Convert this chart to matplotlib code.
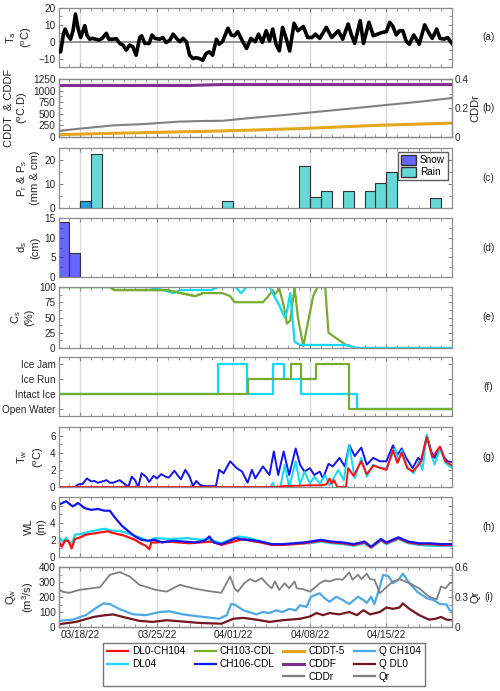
import numpy as np
import matplotlib
matplotlib.use('Agg')
import matplotlib.pyplot as plt
import matplotlib.dates as mdates
from matplotlib.lines import Line2D
from matplotlib.patches import Patch
from matplotlib.ticker import MultipleLocator

FS = 7.2
plt.rcParams['font.family'] = ['Liberation Sans', 'DejaVu Sans']
plt.rcParams['font.size'] = FS
plt.rcParams['mathtext.fontset'] = 'custom'
plt.rcParams['mathtext.rm'] = 'Liberation Sans'
plt.rcParams['mathtext.it'] = 'Liberation Sans'

# ---- data (days since 03/16/22 00:00) ----
ta_day = [0, 0.2, 0.45, 0.6, 0.87, 1.1, 1.33, 1.55, 1.8, 2.03, 2.4, 2.6, 2.85, 3.1, 3.4, 3.7, 4.0, 4.38,
          4.6, 5.0, 5.3, 5.6, 5.9, 6.2, 6.5, 6.8, 7.1, 7.43, 7.6, 7.9, 8.3, 8.55, 8.8, 9.25, 9.55, 9.85,
          10.2, 10.48, 10.8, 11.1, 11.4, 11.7, 12.0, 12.3, 12.6, 12.9, 13.2, 13.5, 13.8, 14.1, 14.45,
          14.7, 15.0, 15.5, 15.8, 16.1, 16.4, 16.7, 17.2, 17.6, 18.0, 18.3, 18.65, 19.0, 19.3, 19.6,
          19.9, 20.2, 20.5, 20.8, 21.15, 21.55, 21.9, 22.4, 22.8, 23.2, 23.5, 23.9, 24.5, 25.0, 25.6,
          26.0, 26.5, 26.8, 27.1, 27.6, 27.9, 28.4, 28.8, 29.2, 29.6, 30.0, 30.3, 30.6, 30.9, 31.2,
          31.5, 31.8, 32.1, 32.5, 33.0, 33.5, 33.9, 34.2, 34.6, 34.9, 35.3, 35.6, 36.0]
ta_val = [-6, -6, 4.5, 7.5, 3.5, 1.5, 6.5, 16.4, 7.5, 2.5, 9.5, 4, 1.5, 2, 1.5, 1, 2, 5,
          1.5, 1.5, 1.8, -1, -2, -5, -2, -3, -8, 2.5, 3.5, -1, -1, 4, 2, 1.5, 2.5, -0.5,
          1, 4.5, 2, 0, 2, 0, -8, -10, -9.5, -10, -11, -7, -6, -8, 1.5,
          -1.5, 0, 8, 4, 3.5, 6, 2, -4, 2, 0, 4.5, -0.4, 6.5, 0.5, 7.5,
          -1.5, -5.4, 8.5, 2.5, -5.5, 10.9, 6.5, 9, 2.5, 2.5, 4.5, 2, 8.5, 2.5, 6.5,
          1.5, 10.5, 4, -1, 12.5, -1, 11.5, 3.5, 4.5, 5.5, 6, 11.5, 9, 4, 6.5,
          6.5, 0.5, -1.5, 4, -1.5, 10, 5, 2, 7.5, 2, 1.5, 2.5, -1]

cddf_day = [0, 12, 13.5, 15, 36]
cddf_val = [1110, 1110, 1122, 1130, 1130]
cddt_day = [0, 5, 9, 15, 22, 29, 36]
cddt_val = [50, 80, 100, 130, 180, 250, 300]
cddr_day = [0, 2, 5, 8, 11, 13, 15, 18, 21, 24, 27, 30, 33, 36]
cddr_val = [0.042, 0.058, 0.080, 0.090, 0.106, 0.110, 0.112, 0.134, 0.154, 0.176, 0.198, 0.221, 0.243, 0.269]

rain_day = [2, 3, 15, 22, 23, 24, 26, 28, 29, 30, 34]
rain_val = [3, 22.5, 3, 17.5, 4.5, 7, 7, 7, 10.5, 15, 4]
snow_day = [2]
snow_val = [3]
ds_day = [0, 1]
ds_val = [14, 6]

cs_dl04_day = [0.1, 8.3, 8.95, 9.6, 10.5, 11.2, 14.0, 14.6, 16.2, 16.7, 17.2, 19.3, 20.2, 20.7, 20.9,
               21.2, 21.4, 21.6, 22.1, 26.3, 27.3, 36]
cs_dl04_val = [100, 100, 97, 95, 90, 95, 95, 100, 100, 90, 100, 100, 70, 50, 60,
               90, 50, 10, 5, 5, 0, 0]
cs_ch103_day = [0.1, 4.7, 5.1, 9.9, 11.2, 12.5, 13.2, 15.0, 15.7, 16.1, 18.7, 19.2, 19.6, 19.8, 20.2,
                20.6, 20.9, 21.2, 21.6, 21.9, 22.4, 22.8, 23.3, 23.7, 24.4, 24.7, 25.1, 26.3, 26.6]
cs_ch103_val = [100, 100, 95, 95, 90, 85, 90, 90, 85, 75, 75, 85, 95, 88, 97,
                70, 40, 45, 100, 50, 3, 40, 85, 100, 100, 25, 20, 5, 4]

ice_levels = ['Open Water', 'Intact Ice', 'Ice Run', 'Ice Jam']
ice_dl04_day = [0.2, 14.6, 17.25, 19.6, 20.6, 22.2, 27.3, 36]
ice_dl04_val = [1, 3, 1, 3, 2, 1, 0, 0]
ice_ch103_day = [0.2, 17.35, 21.25, 22.2, 23.6, 26.6, 36]
ice_ch103_val = [1, 2, 3, 2, 3, 0, 0]

tw_ch106_day = [0, 1.5, 1.8, 2.2, 2.6, 3.0, 3.3, 3.6, 3.9, 4.4, 4.7, 5.0, 5.6, 6.1, 6.4, 6.7, 7.0, 7.3,
                7.6, 8.0, 8.3, 8.7, 9.0, 9.4, 9.8, 10.1, 10.6, 11.0, 11.2, 11.6, 12.0, 12.3, 12.6, 13.0,
                13.5, 14.4, 14.7, 15.1, 15.7, 16.3, 16.8, 17.3, 17.7, 18.0, 18.7, 19.3, 19.7, 20.1, 20.6,
                21.1, 21.7, 22.1, 22.5, 23.0, 23.4, 23.9, 24.2, 24.7, 25.1, 25.7, 26.2, 26.6, 27.1, 27.7,
                28.2, 28.8, 29.4, 30.0, 30.6, 31.0, 31.4, 31.8, 32.4, 32.9, 33.2, 33.7, 34.1, 34.4, 34.9,
                35.3, 35.6, 36]
tw_ch106_val = [0, 0, 0.3, 0.35, 1.0, 0.65, 0.7, 0.5, 0.6, 0.8, 0.5, 0.5, 0.8, 0.3, 0.05, 1.2, 0.8, 0.0,
                1.6, 1.2, 0.6, 1.3, 1.0, 1.5, 1.2, 1.1, 1.9, 1.2, 0.9, 2.0, 1.2, 0.1, 0.7, 0.2,
                0.1, 0.1, 2.0, 1.6, 3.0, 2.2, 1.8, 0.5, 2.0, 1.0, 2.4, 1.4, 4.15, 1.4, 4.15,
                1.4, 4.5, 2.6, 1.8, 2.2, 1.4, 1.8, 1.0, 2.7, 2.4, 3.4, 2.4, 4.9, 3.6, 4.6,
                2.6, 3.4, 3.0, 3.0, 4.86, 3.75, 4.5, 3.4, 2.2, 3.4, 3.0, 6.05, 4.15, 3.4, 4.7,
                3.4, 3.0, 2.9]
tw_dl04_day = [0, 19.4, 19.6, 19.75, 20.3, 20.7, 21.1, 21.7, 22.1, 22.5, 23.0, 23.4, 23.9, 24.4, 24.8,
               25.6, 26.1, 26.6, 27.1, 27.7, 28.2, 28.8, 29.4, 30.0, 30.8, 31.1, 31.4, 31.9, 32.5, 33.0,
               33.3, 33.7, 34.1, 34.4, 34.9, 35.4, 36]
tw_dl04_val = [0, 0, 0.5, 0, 0, 2.6, 0, 3.0, 0.3, 1.8, 0.4, 1.2, 0.4, 1.4, 0.2,
               2.0, 0.8, 4.9, 1.0, 3.4, 1.2, 2.6, 2.2, 2.2, 4.5, 3.0, 4.3, 2.4, 1.6, 3.0,
               2.0, 6.1, 3.8, 2.6, 4.5, 2.8, 2.2]
tw_dl0_day = [0, 20, 20.5, 22, 23, 24, 24.5, 24.8, 25.0, 25.2, 25.5, 26.3, 26.5, 27.0, 27.7, 28.2, 28.8,
              29.5, 30.0, 30.6, 31.0, 31.4, 31.9, 32.4, 33.1, 33.7, 34.2, 34.9, 35.4, 36]
tw_dl0_val = [0, 0, 0.1, 0.15, 0.2, 0.2, 0.3, 1.0, 0.4, 0.8, 0.0, 0.0, 2.2, 1.3, 3.0, 1.5, 2.5,
              2.2, 2.0, 4.3, 2.8, 4.0, 2.2, 1.8, 2.8, 5.8, 3.5, 4.7, 3.0, 2.5]

wl_ch106_day = [0, 0.7, 1.3, 1.8, 2.4, 3.0, 3.6, 4.2, 4.7, 5.1, 5.75, 6.4, 7.0, 7.6, 8.2, 8.8, 9.5, 10.5,
                11.5, 12.5, 13.4, 13.8, 14.2, 14.9, 15.5, 16.2, 17.0, 17.5, 18.5, 19.5, 20.5, 21.5, 22.5,
                23, 24, 25, 26, 27, 28, 28.6, 29.5, 30, 31.1, 32, 33, 34, 35, 36]
wl_ch106_val = [6.1, 6.5, 5.9, 6.3, 5.7, 5.5, 5.6, 5.4, 5.4, 4.7, 3.7, 3.0, 2.4, 2.0, 1.9, 2.0, 1.7, 1.9,
                1.8, 1.7, 1.9, 2.4, 1.7, 1.5, 1.8, 2.2, 2.0, 2.0, 1.8, 1.5, 1.5, 1.6, 1.7,
                1.8, 2.0, 1.8, 1.7, 1.5, 1.8, 1.2, 2.1, 1.7, 2.3, 1.8, 1.6, 1.6, 1.5, 1.5]
wl_dl04_day = [0, 0.4, 0.7, 1.1, 1.3, 1.5, 2.1, 3.0, 4.2, 4.8, 5.75, 6.7, 7.6, 8.3, 8.5, 8.8, 10.3, 11.8,
               13.0, 13.6, 14.2, 14.9, 15.8, 16.5, 17.5, 18.5, 19.5, 20.5, 21.5, 22.5, 23, 24, 25, 26,
               27, 28, 28.6, 29.5, 30, 31.1, 32, 33, 34, 35, 36]
wl_dl04_val = [2.4, 1.8, 2.2, 1.6, 1.8, 2.6, 2.7, 3.0, 3.3, 3.1, 3.0, 2.6, 2.2, 1.8, 2.0, 2.2, 2.1, 2.2,
               2.0, 2.1, 1.9, 1.6, 2.1, 2.4, 2.2, 1.8, 1.5, 1.4, 1.5, 1.6, 1.6, 1.8, 1.6, 1.5,
               1.3, 1.6, 1.1, 1.9, 1.5, 2.1, 1.6, 1.4, 1.3, 1.3, 1.3]
wl_dl0_day = [0, 0.3, 0.6, 0.9, 1.2, 1.5, 2.0, 2.5, 3, 4, 4.5, 5, 6, 7, 7.5, 8.0, 8.3, 8.5, 9, 10, 11, 12,
              13, 14, 14.9, 16, 17, 17.5, 18.5, 19.5, 20.5, 21.5, 22.5, 23, 24, 25, 26, 27, 28, 28.6,
              29.5, 30, 31.1, 32, 33, 34, 35, 36]
wl_dl0_val = [1.9, 1.2, 1.9, 1.9, 1.0, 2.1, 2.3, 2.6, 2.7, 2.9, 3.0, 2.8, 2.5, 2.0, 1.6, 1.3, 0.9, 1.7, 1.7,
              1.8, 1.7, 1.6, 1.7, 1.8, 1.4, 1.8, 2.1, 1.9, 1.7, 1.4, 1.4, 1.5, 1.6, 1.7, 1.9, 1.7, 1.6,
              1.4, 1.7, 1.1, 2.0, 1.6, 2.2, 1.7, 1.5, 1.5, 1.4, 1.4]

q104_day = [0, 1.3, 2.5, 3.5, 4.1, 4.7, 5.6, 6.8, 8.0, 9.3, 10.1, 11.4, 12.9, 14.7, 15.4, 15.8, 16.1, 16.9,
            18.1, 18.7, 19.3, 19.9, 20.5, 21.1, 21.7, 22.1, 22.7, 23.1, 23.9, 24.3, 24.8, 25.4, 26.0, 26.6,
            27.4, 27.9, 28.2, 28.6, 28.9, 29.4, 29.7, 30.2, 30.6, 31.1, 31.5, 32.0, 32.8, 33.7, 34.3, 34.9,
            35.5, 35.8, 36]
q104_val = [41, 49, 79, 130, 157, 153, 119, 85, 79, 100, 105, 84, 70, 55, 79, 153, 150, 112,
            84, 100, 93, 111, 100, 121, 111, 145, 134, 202, 225, 195, 168, 202, 180, 153,
            202, 180, 160, 202, 153, 270, 348, 337, 292, 315, 355, 303, 236, 191, 180, 153,
            150, 111, 105]
qdl0_day = [0, 1.6, 3.2, 4.1, 5.0, 5.9, 7.4, 8.6, 9.9, 11.1, 12.9, 14.9, 16.0, 16.9, 18.1, 19.3, 20.5,
            22.1, 23.0, 23.6, 24.2, 24.8, 25.7, 26.6, 27.3, 27.9, 28.5, 29.4, 30.0, 30.6, 31.2, 31.5,
            32.1, 33.0, 33.9, 34.5, 35.0, 35.5, 36]
qdl0_val = [18, 34, 67, 77, 84, 67, 41, 34, 45, 38, 27, 22, 55, 61, 49, 34, 45,
            55, 70, 93, 79, 93, 84, 100, 79, 112, 84, 100, 130, 121, 130, 157,
            121, 79, 49, 55, 67, 49, 45]
qr_day = [0, 0.4, 1.0, 1.9, 3.8, 4.7, 5.6, 6.5, 7.4, 8.9, 9.9, 11.1, 12.3, 13.5, 14.9, 15.7, 16.1, 16.4,
          17.0, 17.5, 18.0, 18.6, 19.0, 19.5, 19.8, 20.2, 20.7, 21.1, 21.6, 21.8, 22.4, 23.0, 23.5,
          23.9, 24.4, 24.8, 25.4, 26.0, 26.6, 26.9, 27.4, 27.7, 28.2, 28.5, 28.9, 29.4, 30.0, 30.6,
          31.2, 32.1, 33.0, 33.9, 34.6, 35.0, 35.4, 35.8, 36]
qr_val = [0.377, 0.351, 0.342, 0.371, 0.398, 0.522, 0.549, 0.506, 0.422, 0.371, 0.354, 0.422, 0.387,
          0.363, 0.342, 0.506, 0.387, 0.354, 0.438, 0.479, 0.455, 0.489, 0.438, 0.387, 0.455, 0.371,
          0.438, 0.387, 0.455, 0.387, 0.377, 0.354, 0.398, 0.438, 0.465, 0.455, 0.479, 0.473, 0.546,
          0.473, 0.522, 0.479, 0.533, 0.479, 0.473, 0.338, 0.398, 0.455, 0.479, 0.438, 0.387, 0.303,
          0.276, 0.405, 0.387, 0.438, 0.443]

# colours
C_RED = '#ff1010'
C_CYAN = '#12d8fa'
C_GREEN = '#77ac30'
C_BLUE = '#1414ee'
C_ORANGE = '#e3a81e'
C_PURPLE = '#7e2f8e'
C_GRAY = '#808080'
C_LBLUE = '#4da9e6'
C_DRED = '#741620'
SPINE = '#8c8c8c'
TXT = '#262626'

T0 = mdates.date2num(np.datetime64('2022-03-16'))


def t(d):
    return T0 + np.asarray(d, dtype=float)


W, H = 500, 691
fig = plt.figure(figsize=(W / 100, H / 100), dpi=100)
LEFT, RIGHT = 58.5, 452
panels = [(8, 67), (79, 137), (148, 208), (218, 277), (287, 348),
          (357, 416), (427, 487), (497, 557), (567, 627)]
axes = []
for top, bot in panels:
    ax = fig.add_axes([LEFT / W, 1 - bot / H, (RIGHT - LEFT) / W, (bot - top) / H])
    axes.append(ax)


def style(ax, right=True, bottom_labels=False):
    ax.set_xlim(T0, T0 + 36)
    ax.xaxis.set_major_locator(mdates.WeekdayLocator(byweekday=mdates.FR))
    ax.xaxis.set_minor_locator(mdates.DayLocator())
    ax.xaxis.set_major_formatter(mdates.DateFormatter('%m/%d/%y'))
    ax.tick_params(which='both', direction='in', top=True, right=right,
                   color=SPINE, labelcolor=TXT, labelsize=FS, pad=2)
    ax.tick_params(which='major', length=3)
    ax.tick_params(which='minor', length=2)
    ax.tick_params(axis='x', labelbottom=bottom_labels)
    ax.grid(axis='x', which='major', color='#dadada', lw=1)
    ax.set_axisbelow(True)
    for s in ax.spines.values():
        s.set_color(SPINE)
        s.set_linewidth(0.9)


def twin_style(ax):
    ax.tick_params(which='both', direction='in', right=True, color=SPINE,
                   labelcolor=TXT, labelsize=FS, pad=2)
    ax.tick_params(which='major', length=3)
    ax.tick_params(which='minor', length=2)
    for s in ax.spines.values():
        s.set_color(SPINE)
        s.set_linewidth(0.9)


# (a) air temperature
ax = axes[0]
style(ax)
ax.axhline(0, color=C_GRAY, lw=1.2, zorder=1)
ax.plot(t(ta_day), ta_val, color='k', lw=2.6, zorder=3)
ax.set_ylim(-15, 20)
ax.set_yticks([-10, 0, 10, 20])
ax.yaxis.set_minor_locator(MultipleLocator(5))
ax.set_ylabel('T$_{\\rm a}$\n($^{\\rm o}$C)', color=TXT, labelpad=3, fontsize=8)

# (b) cumulative degree days
ax = axes[1]
style(ax, right=False)
ax.plot(t(cddt_day), cddt_val, color=C_ORANGE, lw=2.2)
ax.plot(t(cddf_day), cddf_val, color=C_PURPLE, lw=2.2)
ax.set_ylim(0, 1250)
ax.set_yticks([0, 250, 500, 750, 1000, 1250])
ax.yaxis.set_minor_locator(MultipleLocator(125))
ax.set_ylabel('CDDT  & CDDF\n($^{\\rm o}$C.D)', color=TXT, labelpad=2, fontsize=8)
axr = ax.twinx()
twin_style(axr)
axr.plot(t(cddr_day), cddr_val, color=C_GRAY, lw=1.5)
axr.set_ylim(0, 0.4)
axr.set_yticks([0, 0.2, 0.4])
axr.set_yticklabels(['0', '0.2', '0.4'])
axr.yaxis.set_minor_locator(MultipleLocator(0.1))
axr.set_ylabel('CDDr', color=TXT, labelpad=1, fontsize=8)
axr.set_xlim(T0, T0 + 36)

# (c) precipitation
ax = axes[2]
style(ax)
ax.bar(t(snow_day), snow_val, width=1, align='edge', facecolor=(0, 0, 1, 0.6),
       edgecolor='#333333', lw=0.8, zorder=2)
ax.bar(t(rain_day), rain_val, width=1, align='edge', facecolor=(0, 0.75, 0.75, 0.6),
       edgecolor='#333333', lw=0.8, zorder=3)
ax.set_ylim(0, 25)
ax.set_yticks([0, 10, 20])
ax.yaxis.set_minor_locator(MultipleLocator(5))
ax.set_ylabel('P$_{\\rm r}$ & P$_{\\rm s}$\n(mm & cm)', color=TXT, labelpad=3, fontsize=8)
ax.legend(handles=[Patch(facecolor=(0, 0, 1, 0.6), edgecolor='#333333', label='Snow'),
                   Patch(facecolor=(0, 0.75, 0.75, 0.6), edgecolor='#333333', label='Rain')],
          loc='upper right', fontsize=FS, frameon=True, fancybox=False, edgecolor='#333333',
          handlelength=1.5, handleheight=1.1, borderpad=0.3, labelspacing=0.2,
          handletextpad=0.4, borderaxespad=0.4)

# (d) snow depth
ax = axes[3]
style(ax)
ax.bar(t(ds_day), ds_val, width=1, align='edge', facecolor=(0, 0, 1, 0.6),
       edgecolor='#333333', lw=0.8, zorder=2)
ax.set_ylim(0, 15)
ax.set_yticks([0, 5, 10, 15])
ax.yaxis.set_minor_locator(MultipleLocator(2.5))
ax.set_ylabel('d$_{\\rm s}$\n(cm)', color=TXT, labelpad=3, fontsize=8)

# (e) ice concentration
ax = axes[4]
style(ax)
ax.plot(t(cs_ch103_day), cs_ch103_val, color=C_GREEN, lw=1.6)
ax.plot(t(cs_dl04_day), cs_dl04_val, color=C_CYAN, lw=1.6)
ax.plot(t(cs_ch103_day[:7]), cs_ch103_val[:7], color=C_GREEN, lw=1.6)
ax.set_ylim(0, 100)
ax.set_yticks([0, 25, 50, 75, 100])
ax.yaxis.set_minor_locator(MultipleLocator(12.5))
ax.set_ylabel('C$_{\\rm s}$\n(%)', color=TXT, labelpad=3, fontsize=8)

# (f) ice state
ax = axes[5]
style(ax)
ax.plot(t(ice_dl04_day), ice_dl04_val, color=C_CYAN, lw=1.6, drawstyle='steps-post')
ax.plot(t(ice_ch103_day), ice_ch103_val, color=C_GREEN, lw=1.6, drawstyle='steps-post')
ax.set_ylim(-0.5, 3.5)
ax.set_yticks([0, 1, 2, 3])
ax.set_yticklabels(ice_levels)

# (g) water temperature
ax = axes[6]
style(ax)
ax.plot(t(tw_ch106_day), tw_ch106_val, color=C_BLUE, lw=1.4)
ax.plot(t(tw_dl04_day), tw_dl04_val, color=C_CYAN, lw=1.4)
ax.plot(t(tw_dl0_day), tw_dl0_val, color=C_RED, lw=1.4)
ax.set_ylim(0, 7)
ax.set_yticks([0, 2, 4, 6])
ax.yaxis.set_minor_locator(MultipleLocator(1))
ax.set_ylabel('T$_{\\rm w}$\n($^{\\rm o}$C)', color=TXT, labelpad=3, fontsize=8)

# (h) water level
ax = axes[7]
style(ax)
ax.plot(t(wl_dl04_day), wl_dl04_val, color=C_CYAN, lw=1.6)
ax.plot(t(wl_dl0_day), wl_dl0_val, color=C_RED, lw=1.6)
ax.plot(t(wl_ch106_day), wl_ch106_val, color=C_BLUE, lw=1.6)
ax.set_ylim(0, 7)
ax.set_yticks([0, 2, 4, 6])
ax.yaxis.set_minor_locator(MultipleLocator(1))
ax.set_ylabel('WL\n(m)', color=TXT, labelpad=3, fontsize=8)

# (i) discharge
ax = axes[8]
style(ax, right=False, bottom_labels=True)
ax.plot(t(q104_day), q104_val, color=C_LBLUE, lw=1.6, zorder=3)
ax.plot(t(qdl0_day), qdl0_val, color=C_DRED, lw=1.6, zorder=3)
ax.set_ylim(0, 400)
ax.set_yticks([0, 100, 200, 300, 400])
ax.yaxis.set_minor_locator(MultipleLocator(50))
ax.set_ylabel('Q$_{\\rm w}$\n(m$^3$/s)', color=TXT, labelpad=2, fontsize=8)
axr2 = ax.twinx()
twin_style(axr2)
axr2.plot(t(qr_day), qr_val, color=C_GRAY, lw=1.3)
axr2.set_ylim(0, 0.6)
axr2.set_yticks([0, 0.3, 0.6])
axr2.set_yticklabels(['0', '0.3', '0.6'])
axr2.yaxis.set_minor_locator(MultipleLocator(0.075))
axr2.set_ylabel('Qr', color=TXT, labelpad=1, fontsize=8)
axr2.set_xlim(T0, T0 + 36)

# panel letters
for ax, lab in zip(axes, 'abcdefghi'):
    bb = ax.get_position()
    fig.text(0.977, bb.y0 + bb.height / 2, f'({lab})', ha='center', va='center',
             fontsize=FS, color=TXT)

# shared legend
blank = Line2D([], [], alpha=0)
handles = [Line2D([], [], color=C_RED, lw=1.6), Line2D([], [], color=C_CYAN, lw=1.6), blank,
           Line2D([], [], color=C_GREEN, lw=1.6), Line2D([], [], color=C_BLUE, lw=1.6), blank,
           Line2D([], [], color=C_ORANGE, lw=2.2), Line2D([], [], color=C_PURPLE, lw=2.2),
           Line2D([], [], color=C_GRAY, lw=1.6),
           Line2D([], [], color=C_LBLUE, lw=1.6), Line2D([], [], color=C_DRED, lw=1.6),
           Line2D([], [], color=C_GRAY, lw=1.6)]
labels = ['DL0-CH104', 'DL04', '', 'CH103-CDL', 'CH106-CDL', '',
          'CDDT-5', 'CDDF', 'CDDr', 'Q CH104', 'Q DL0', 'Qr']
fig.legend(handles, labels, ncol=4, loc='center', bbox_to_anchor=(264 / W, 1 - 664 / H),
           fontsize=FS, frameon=True, fancybox=False, edgecolor='#555555',
           handlelength=2.1, columnspacing=0.9, handletextpad=0.4, labelspacing=0.25,
           borderpad=0.4)

fig.savefig('out.png', dpi=100)
